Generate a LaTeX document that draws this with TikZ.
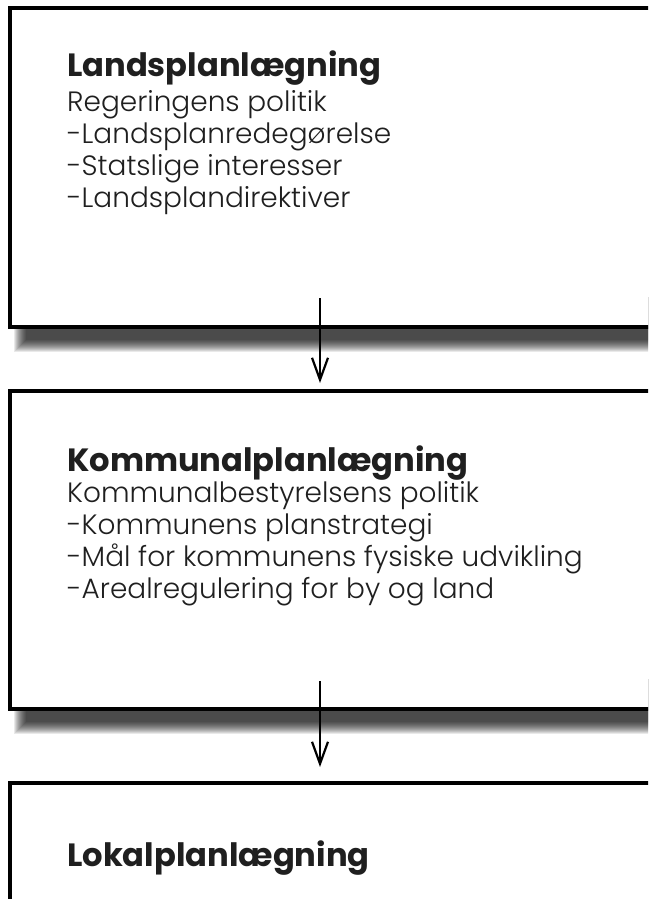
\documentclass[tikz,border=0pt]{standalone}
\usepackage{fontspec}
\setmainfont{Poppins}
\newfontfamily\bodyfont{Poppins Light}
\usetikzlibrary{arrows.meta}
\newlength\wbodyref
\newlength\wtitleref
\begin{document}
\settowidth\wbodyref{\bodyfont\fontsize{10}{12}\selectfont -Landsplanredegørelse}%
\settowidth\wtitleref{\normalfont\fontsize{10}{12}\selectfont\bfseries Landsplanlægning}%
\pgfmathsetmacro\bodysize{10*324/\wbodyref}%
\pgfmathsetmacro\titlesize{10*314/\wtitleref}%
\begin{tikzpicture}[x=1pt,y=-1pt,
  boxnode/.style={draw=black, line width=3.2pt, fill=white, inner sep=0pt, outer sep=0pt,
    anchor=north west, minimum width=700pt},
  titletext/.style={anchor=base west, inner sep=0pt, text=black!88, font=\fontsize{\titlesize}{\titlesize}\selectfont\bfseries},
  bodytext/.style={anchor=base west, inner sep=0pt, text=black!88, font=\bodyfont\fontsize{\bodysize}{\bodysize}\selectfont},
  arr/.style={line width=2.2pt, -{Straight Barb[length=22pt,width=16pt]}}]
\useasboundingbox (0,0) rectangle (648,899);
\clip (0,0) rectangle (648,899);
\fill[white] (0,0) rectangle (648,899);
% shadows
\foreach \B in {327,709} {
  \foreach \r in {12,...,0} {
    \fill[black, fill opacity=0.085] (26-\r,\B-30) rectangle (720,\B+13+\r);
  }
}
% boxes
\node[boxnode, minimum height=319pt] (b1) at (10,8) {};
\node[boxnode, minimum height=318pt] (b2) at (10,391) {};
\node[boxnode, minimum height=319pt] (b3) at (10,783) {};
% texts box 1
\node[titletext] (t1) at (67,76) {Landsplanlægning};
\node[bodytext] (l11) at (67,111) {Regeringens politik};
\node[bodytext] (l12) at (67,143) {-Landsplanredegørelse};
\node[bodytext] (l13) at (67,175) {-Statslige interesser};
\node[bodytext] (l14) at (67,207) {-Landsplandirektiver};
% texts box 2
\node[titletext] (t2) at (67,471) {Kommunalplanlægning};
\node[bodytext] (l21) at (67,502) {Kommunalbestyrelsens politik};
\node[bodytext] (l22) at (67,534) {-Kommunens planstrategi};
\node[bodytext] (l23) at (67,566) {-Mål for kommunens fysiske udvikling};
\node[bodytext] (l24) at (67,598) {-Arealregulering for by og land};
% text box 3
\node[titletext] (t3) at (67,866) {Lokalplanlægning};
% arrows
\coordinate (a1s) at (320,298);
\coordinate (a1e) at (320,383);
\coordinate (a2s) at (320,681);
\coordinate (a2e) at (320,767);
\draw[arr] (a1s) -- (a1e);
\draw[arr] (a2s) -- (a2e);
\end{tikzpicture}
\end{document}
